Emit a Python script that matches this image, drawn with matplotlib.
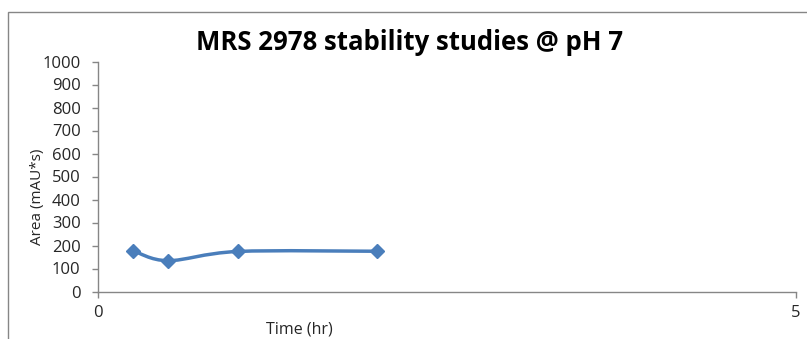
import matplotlib
matplotlib.use("Agg")
import matplotlib.pyplot as plt
from matplotlib.path import Path
from matplotlib.patches import PathPatch, Rectangle
import numpy as np

# Data
time_hr = [0.25, 0.5, 1.0, 2.0]
area = [178, 134, 174, 175]
x_ticks = [0, 5]
y_ticks = [0, 100, 200, 300, 400, 500, 600, 700, 800, 900, 1000]

title = "MRS 2978 stability studies @ pH 7"
x_label = "Time (hr)"
y_label = "Area (mAU*s)"

LINE_COLOR = "#4A7EBB"
AXIS_COLOR = "#868686"
TEXT_COLOR = "#262626"
FONT = ["Open Sans", "DejaVu Sans"]

W, H = 807, 339
fig = plt.figure(figsize=(W / 100, H / 100), dpi=100)
fig.patch.set_facecolor("white")

# chart area frame (open to the right and bottom)
fig.add_artist(Rectangle((8 / W, -0.1), 1.2, (H - 11.5) / H + 0.1,
                         transform=fig.transFigure, fill=False,
                         edgecolor=AXIS_COLOR, linewidth=1.0))

ax = fig.add_axes([98 / W, (H - 291.5) / H, 698 / W, 230 / H])
ax.set_xlim(0, 5)
ax.set_ylim(0, 1000)
ax.set_facecolor("none")

for s in ("top", "right"):
    ax.spines[s].set_visible(False)
for s in ("left", "bottom"):
    ax.spines[s].set_color(AXIS_COLOR)
    ax.spines[s].set_linewidth(1.0)

ax.set_xticks(x_ticks)
ax.set_yticks(y_ticks)
ax.tick_params(axis="both", direction="out", color=AXIS_COLOR, length=4.5,
               width=1.0, labelcolor=TEXT_COLOR, labelsize=12)
ax.tick_params(axis="y", pad=8)
ax.tick_params(axis="x", pad=5)
for lbl in ax.get_xticklabels() + ax.get_yticklabels():
    lbl.set_fontfamily(FONT)

# smoothed line through the points (Catmull-Rom as cubic Bezier segments)
pts = np.column_stack([time_hr, area]).astype(float)
n = len(pts)
verts = [tuple(pts[0])]
codes = [Path.MOVETO]
for i in range(n - 1):
    p0 = pts[max(i - 1, 0)]
    p1 = pts[i]
    p2 = pts[i + 1]
    p3 = pts[min(i + 2, n - 1)]
    c1 = p1 + (p2 - p0) / 6.0
    c2 = p2 - (p3 - p1) / 6.0
    verts += [tuple(c1), tuple(c2), tuple(p2)]
    codes += [Path.CURVE4] * 3
curve = PathPatch(Path(verts, codes), facecolor="none", edgecolor=LINE_COLOR,
                  linewidth=2.5, capstyle="round", joinstyle="round", zorder=3)
ax.add_patch(curve)
ax.plot(time_hr, area, linestyle="none", marker="D", markersize=7.5,
        color=LINE_COLOR, zorder=4, clip_on=False)

fig.text(410 / W, 1 - 42 / H, title, ha="center", va="center",
         fontsize=18.5, fontweight="bold", family=FONT, color="black")
fig.text(299 / W, 1 - 330 / H, x_label, ha="center", va="center",
         fontsize=11.5, family=FONT, color=TEXT_COLOR)
fig.text(37.5 / W, 1 - 196.5 / H, y_label, ha="center", va="center",
         rotation=90, fontsize=11, family=FONT, color=TEXT_COLOR)

fig.savefig("out.png", dpi=100, facecolor="white")
